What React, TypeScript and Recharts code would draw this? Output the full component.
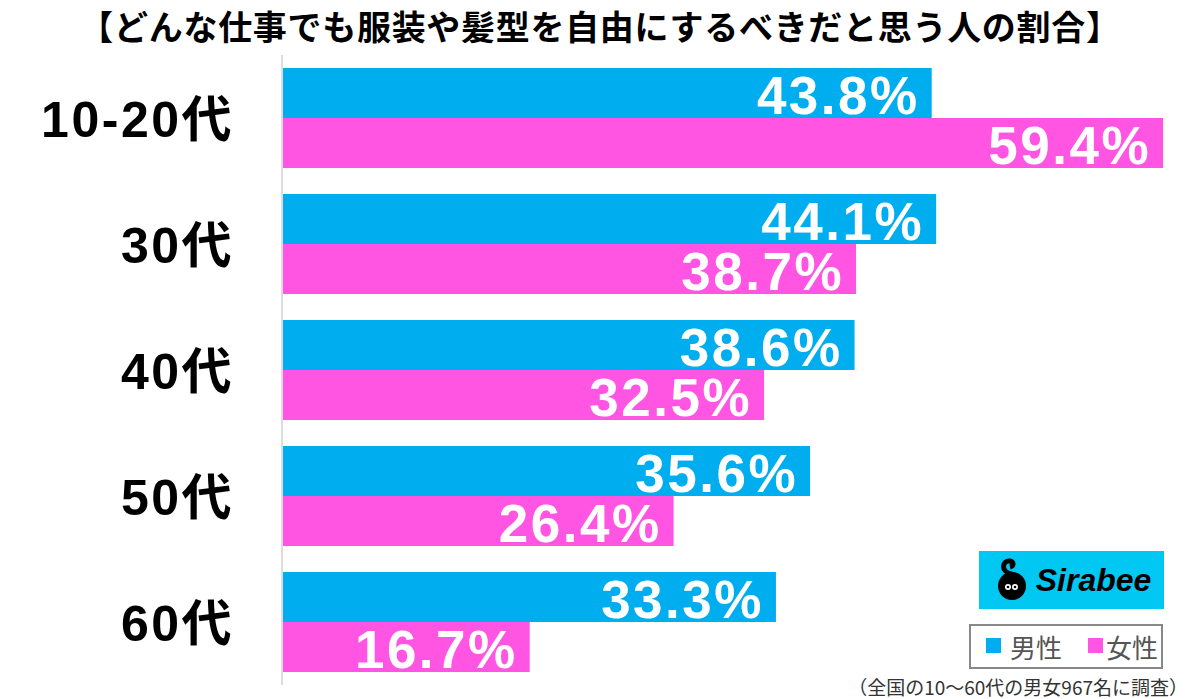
import React from "react";
import { BarChart, Bar, XAxis, YAxis, LabelList } from "recharts";

const categories = ["10-20代", "30代", "40代", "50代", "60代"];
const maleValues = [43.8, 44.1, 38.6, 35.6, 33.3];
const femaleValues = [59.4, 38.7, 32.5, 26.4, 16.7];
const seriesNames = ["男性", "女性"];
const title = "【どんな仕事でも服装や髪型を自由にするべきだと思う人の割合】";
const footnote = "（全国の10～60代の男女967名に調査）";

const BLUE = "#00AEEF";
const PINK = "#FF55E2";

const data = categories.map((name, i) => ({
  name,
  male: maleValues[i],
  female: femaleValues[i],
}));

const ValueLabel = (props: any) => {
  const { x, y, width, height, value } = props;
  return (
    <text
      x={x + width - 12}
      y={y + height / 2 + 2}
      textAnchor="end"
      dominantBaseline="central"
      fill="#fff"
      fontFamily="'Liberation Sans', Arial, sans-serif"
      fontWeight="bold"
      fontSize={53}
      letterSpacing={2.5}
    >
      {value.toFixed(1)}%
    </text>
  );
};

const CategoryTick = (props: any) => {
  const { x, y, payload } = props;
  return (
    <text
      x={x + 2}
      y={y + 2}
      textAnchor="end"
      dominantBaseline="central"
      fill="#000"
      fontFamily="'Liberation Sans', 'Noto Sans CJK JP', sans-serif"
      fontWeight="bold"
      fontSize={50}
      letterSpacing={2.5}
    >
      {payload.value}
    </text>
  );
};

const legendText: React.CSSProperties = {
  position: "absolute",
  top: 0,
  lineHeight: "41px",
  whiteSpace: "nowrap",
};

export default function App() {
  return (
    <div
      style={{
        position: "absolute",
        left: 0,
        top: 0,
        width: 1200,
        height: 699,
        background: "#fff",
        overflow: "hidden",
      }}
    >
      <div
        style={{
          position: "absolute",
          left: 0,
          top: 4,
          width: 1200,
          textAlign: "center",
          fontFamily: "'Noto Sans CJK JP', sans-serif",
          fontWeight: "bold",
          fontSize: 34,
          letterSpacing: 0.7,
          lineHeight: "44px",
          color: "#000",
          whiteSpace: "nowrap",
        }}
      >
        {title}
      </div>
      <BarChart
        width={1200}
        height={699}
        data={data}
        layout="vertical"
        margin={{ top: 55, right: 28, bottom: 14, left: 0 }}
        barCategoryGap={13}
        barGap={0}
      >
        <XAxis type="number" domain={[0, 60]} hide />
        <YAxis
          type="category"
          dataKey="name"
          width={282}
          axisLine={{ stroke: "#dddddd", strokeWidth: 2 }}
          tickLine={false}
          tickSize={0}
          tickMargin={50}
          tick={<CategoryTick />}
        />
        <Bar dataKey="male" name={seriesNames[0]} fill={BLUE} isAnimationActive={false}>
          <LabelList dataKey="male" content={<ValueLabel />} />
        </Bar>
        <Bar dataKey="female" name={seriesNames[1]} fill={PINK} isAnimationActive={false}>
          <LabelList dataKey="female" content={<ValueLabel />} />
        </Bar>
      </BarChart>

      {/* Sirabee logo */}
      <div
        style={{
          position: "absolute",
          left: 979,
          top: 551,
          width: 185,
          height: 58,
          background: "#00C8F2",
          display: "flex",
          alignItems: "center",
          justifyContent: "center",
        }}
      >
        <svg width={40} height={44} viewBox="0 0 40 44">
          <circle cx={20} cy={28} r={14} fill="#000" />
          <path d="M20 16 C 8 14, 10 2, 18 3 C 22 4, 22 8, 18 9" stroke="#000" strokeWidth={5} fill="none" />
          <circle cx={16} cy={29} r={3} fill="#fff" />
          <circle cx={23} cy={29} r={3} fill="#fff" />
          <circle cx={16} cy={29} r={1.3} fill="#000" />
          <circle cx={23} cy={29} r={1.3} fill="#000" />
        </svg>
        <span
          style={{
            fontFamily: "'Liberation Sans', Arial, sans-serif",
            fontWeight: "bold",
            fontStyle: "italic",
            fontSize: 32,
            color: "#000",
            marginLeft: 4,
          }}
        >
          Sirabee
        </span>
      </div>

      {/* Legend */}
      <div
        style={{
          position: "absolute",
          left: 969,
          top: 624,
          width: 194,
          height: 45,
          boxSizing: "border-box",
          border: "2px solid #888",
          fontFamily: "'Noto Sans CJK JP', sans-serif",
          fontSize: 26,
          color: "#555",
        }}
      >
        <span style={{ position: "absolute", left: 15, top: 12, width: 15, height: 15, background: BLUE }} />
        <span style={{ ...legendText, left: 39 }}>{seriesNames[0]}</span>
        <span style={{ position: "absolute", left: 117, top: 12, width: 15, height: 15, background: PINK }} />
        <span style={{ ...legendText, left: 135 }}>{seriesNames[1]}</span>
      </div>

      {/* Footnote */}
      <div
        style={{
          position: "absolute",
          right: 12,
          top: 675,
          fontFamily: "'Noto Sans CJK JP', sans-serif",
          fontSize: 19,
          lineHeight: "24px",
          color: "#333",
          whiteSpace: "nowrap",
        }}
      >
        {footnote}
      </div>
    </div>
  );
}
